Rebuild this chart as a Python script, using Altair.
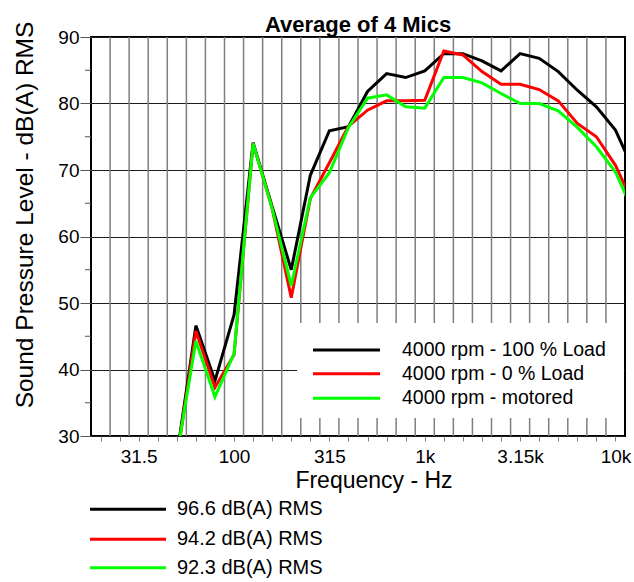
import altair as alt
import pandas as pd

# Third-octave band centres (index 0 = 20 Hz)
bands = ["20", "25", "31.5", "40", "50", "63", "80", "100", "125", "160", "200",
         "250", "315", "400", "500", "630", "800", "1k", "1.25k", "1.6k", "2k",
         "2.5k", "3.15k", "4k", "5k", "6.3k", "8k", "10k", "12.5k"]
labelled_bands = ["31.5", "100", "315", "1k", "3.15k", "10k"]
first_band = "50"  # first band with a measured value (50 Hz ... 12.5 kHz)

series_names = ["4000 rpm - 100 % Load", "4000 rpm - 0 % Load", "4000 rpm - motored"]
rms_labels = ["96.6 dB(A) RMS", "94.2 dB(A) RMS", "92.3 dB(A) RMS"]
series_colors = ["#000000", "#ff0000", "#00ff00"]

load100 = [27.0, 46.6, 38.3, 48.2, 74.1, 64.5, 55.0, 69.2, 75.9, 76.5, 81.8, 84.5,
           83.9, 84.9, 87.5, 87.5, 86.4, 84.9, 87.5, 86.8, 84.8, 82.0, 79.5, 76.0, 69.7]
load0 = [26.5, 45.8, 37.3, 42.2, 74.0, 64.2, 50.8, 65.7, 71.1, 76.6, 79.0, 80.4,
         80.4, 80.5, 87.9, 87.3, 84.8, 82.9, 82.9, 82.1, 80.4, 77.0, 75.0, 70.7, 64.5]
motored = [27.0, 44.3, 35.9, 42.4, 74.0, 64.2, 52.6, 65.8, 69.6, 76.4, 80.8, 81.3,
           79.5, 79.3, 83.9, 83.9, 83.1, 81.5, 80.0, 80.0, 78.9, 76.4, 73.5, 69.7, 63.3]

y_major = [30, 40, 50, 60, 70, 80, 90]
y_minor = [35, 45, 55, 65, 75, 85]

title_text = "Average of 4 Mics"
x_title = "Frequency - Hz"
y_title = "Sound Pressure Level - dB(A) RMS"

FONT = "Liberation Sans"
W, H = 534, 399
n_shown = 28  # 20 Hz .. 10 kHz

start = bands.index(first_band)
rows = []
for name, vals in zip(series_names, [load100, load0, motored]):
    for k, v in enumerate(vals):
        rows.append({"band": start + k, "spl": v, "series": name})
df = pd.DataFrame(rows)

xscale = alt.Scale(domain=[-0.5, n_shown - 0.5], nice=False, zero=False)
yscale = alt.Scale(domain=[30, 90], nice=False, zero=False)

label_idx = [bands.index(b) for b in labelled_bands]
expr = "''"
for i in reversed(label_idx):
    expr = f"datum.value == {i} ? '{bands[i]}' : ({expr})"

xaxis = alt.Axis(values=list(range(n_shown)), labelExpr=expr, title=None, grid=False,
                 domain=False, ticks=True, tickSize=5, tickColor="#808080", tickWidth=1,
                 labelFontSize=19, labelFont=FONT, labelColor="#000", labelPadding=6,
                 labelFlush=False, labelOverlap=False)
yaxis = alt.Axis(values=y_major, title=None, grid=True, gridColor="#1a1a1a", gridWidth=1,
                 domain=False, tickSize=11, tickColor="#555555", tickWidth=1,
                 labelFontSize=19, labelFont=FONT, labelColor="#000", labelPadding=1,
                 labelFlush=False)

# vertical band-boundary grid lines
bounds = pd.DataFrame({"b": [i + 0.5 for i in range(n_shown - 1)]})
vgrid = alt.Chart(bounds).mark_rule(color="#7f7f7f", strokeWidth=1.5).encode(
    x=alt.X("b:Q", scale=xscale, axis=xaxis))

minor = alt.Chart(pd.DataFrame({"v": y_minor})).mark_rule(color="#555555", strokeWidth=1).encode(
    y=alt.Y("v:Q", scale=yscale, axis=yaxis), x=alt.value(-6), x2=alt.value(0))

one = pd.DataFrame({"d": [0]})
legend_box = alt.Chart(one).mark_rect(color="white").encode(
    x=alt.value(206), x2=alt.value(533), y=alt.value(286), y2=alt.value(381))

line_layers = []
for name, col in zip(series_names, series_colors):
    line_layers.append(
        alt.Chart(df[df.series == name]).mark_line(color=col, strokeWidth=3, clip=True,
                                                   strokeJoin="miter").encode(
            x=alt.X("band:Q", scale=xscale, axis=xaxis),
            y=alt.Y("spl:Q", scale=yscale, axis=yaxis)))

# in-plot legend
leg_layers = []
leg_y = [313, 336.7, 361.3]
for name, col, yy in zip(series_names, series_colors, leg_y):
    leg_layers.append(alt.Chart(one).mark_rule(color=col, strokeWidth=3).encode(
        x=alt.value(222), x2=alt.value(289), y=alt.value(yy)))
    leg_layers.append(alt.Chart(pd.DataFrame({"t": [name]})).mark_text(
        font=FONT, fontSize=19.5, align="left", baseline="middle", color="#000").encode(
        text="t:N", x=alt.value(311), y=alt.value(yy)))

# bottom legend (RMS values)
rms_y = [472.3, 502.3, 530.7]
for lab, col, yy in zip(rms_labels, series_colors, rms_y):
    leg_layers.append(alt.Chart(one).mark_rule(color=col, strokeWidth=3).encode(
        x=alt.value(-1), x2=alt.value(75), y=alt.value(yy)))
    leg_layers.append(alt.Chart(pd.DataFrame({"t": [lab]})).mark_text(
        font=FONT, fontSize=20, align="left", baseline="middle", color="#000").encode(
        text="t:N", x=alt.value(86), y=alt.value(yy)))

title_layer = alt.Chart(pd.DataFrame({"t": [title_text]})).mark_text(
    font=FONT, fontSize=22, fontWeight="bold", align="center", baseline="alphabetic",
    color="#000").encode(text="t:N", x=alt.value(267), y=alt.value(-5))
xt_layer = alt.Chart(pd.DataFrame({"t": [x_title]})).mark_text(
    font=FONT, fontSize=23, align="center", baseline="alphabetic", color="#000").encode(
    text="t:N", x=alt.value(283), y=alt.value(451))
yt_layer = alt.Chart(pd.DataFrame({"t": [y_title]})).mark_text(
    font=FONT, fontSize=24.5, align="center", baseline="alphabetic", angle=270,
    color="#000").encode(text="t:N", x=alt.value(-58), y=alt.value(178))

chart = alt.layer(
    vgrid, minor, legend_box, *line_layers, *leg_layers, title_layer, xt_layer, yt_layer
).properties(
    width=W, height=H,
    autosize=alt.AutoSizeParams(type="none"),
    padding={"left": 91, "top": 37, "right": 9, "bottom": 146},
    background="white",
).configure(font=FONT).configure_view(stroke="#000000", strokeWidth=2)

chart.save("out.html", embed_options={"renderer": "svg", "actions": False})
